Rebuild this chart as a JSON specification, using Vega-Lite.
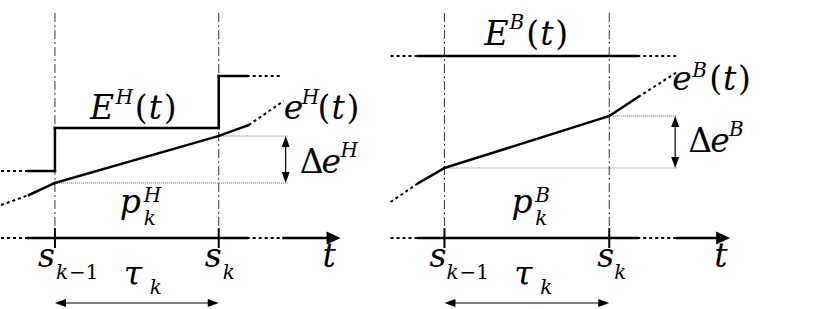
{
"$schema": "https://vega.github.io/schema/vega-lite/v6.json",
"width": 821, "height": 309,
"autosize": {"type": "fit", "contains": "padding"},
"padding": 0,
"background": "white",
"config": {"view": {"stroke": null}, "text": {"font": "DejaVu Serif"}},
"datasets": {
"segs": [
{"x":27,"y":171,"x2":54,"y2":171,"kind":"curve"},
{"x":54,"y":171,"x2":54,"y2":128,"kind":"curve"},
{"x":54,"y":128,"x2":218,"y2":128,"kind":"curve"},
{"x":218,"y":128,"x2":218,"y2":76,"kind":"curve"},
{"x":218,"y":76,"x2":246,"y2":76,"kind":"curve"},
{"x":28,"y":195,"x2":54,"y2":183,"kind":"curve"},
{"x":54,"y":183,"x2":218,"y2":136,"kind":"curve"},
{"x":218,"y":136,"x2":248,"y2":125,"kind":"curve"},
{"x":27,"y":238,"x2":246,"y2":238,"kind":"curve"},
{"x":283,"y":238,"x2":332,"y2":238,"kind":"curve"},
{"x":0,"y":171,"x2":27,"y2":171,"kind":"ext"},
{"x":246,"y":76,"x2":282,"y2":76,"kind":"ext"},
{"x":0,"y":205,"x2":28,"y2":195,"kind":"ext"},
{"x":248,"y":125,"x2":283,"y2":101,"kind":"ext"},
{"x":0,"y":238,"x2":27,"y2":238,"kind":"ext"},
{"x":246,"y":238,"x2":283,"y2":238,"kind":"ext"},
{"x":54,"y":13,"x2":54,"y2":229,"kind":"guide"},
{"x":218,"y":13,"x2":218,"y2":229,"kind":"guide"},
{"x":54,"y":228,"x2":54,"y2":248,"kind":"tick"},
{"x":218,"y":228,"x2":218,"y2":248,"kind":"tick"},
{"x":54,"y":183,"x2":287,"y2":183,"kind":"ref"},
{"x":218,"y":136,"x2":287,"y2":136,"kind":"ref"},
{"x":285,"y":140,"x2":285,"y2":179,"kind":"arrow"},
{"x":58,"y":303,"x2":214,"y2":303,"kind":"arrow"},
{"x":418,"y":56,"x2":637,"y2":56,"kind":"curve"},
{"x":418,"y":183,"x2":444,"y2":168,"kind":"curve"},
{"x":444,"y":168,"x2":609,"y2":116,"kind":"curve"},
{"x":609,"y":116,"x2":638,"y2":97,"kind":"curve"},
{"x":418,"y":238,"x2":637,"y2":238,"kind":"curve"},
{"x":677,"y":238,"x2":722,"y2":238,"kind":"curve"},
{"x":390,"y":56,"x2":418,"y2":56,"kind":"ext"},
{"x":637,"y":56,"x2":677,"y2":56,"kind":"ext"},
{"x":390,"y":202,"x2":418,"y2":183,"kind":"ext"},
{"x":638,"y":97,"x2":677,"y2":72,"kind":"ext"},
{"x":390,"y":238,"x2":418,"y2":238,"kind":"ext"},
{"x":637,"y":238,"x2":677,"y2":238,"kind":"ext"},
{"x":444,"y":13,"x2":444,"y2":229,"kind":"guide"},
{"x":609,"y":13,"x2":609,"y2":229,"kind":"guide"},
{"x":444,"y":228,"x2":444,"y2":248,"kind":"tick"},
{"x":609,"y":228,"x2":609,"y2":248,"kind":"tick"},
{"x":444,"y":168,"x2":677,"y2":168,"kind":"ref"},
{"x":609,"y":116,"x2":677,"y2":116,"kind":"ref"},
{"x":675,"y":120,"x2":675,"y2":164,"kind":"arrow"},
{"x":448,"y":303,"x2":605,"y2":303,"kind":"arrow"}
],
"heads": [
{"x":285,"y":136,"dir":"up"},{"x":285,"y":183,"dir":"down"},
{"x":54,"y":303,"dir":"left"},{"x":218,"y":303,"dir":"right"},
{"x":340,"y":238,"dir":"axis"},
{"x":675,"y":116,"dir":"up"},{"x":675,"y":168,"dir":"down"},
{"x":444,"y":303,"dir":"left"},{"x":609,"y":303,"dir":"right"},
{"x":730,"y":238,"dir":"axis"}
],
"labels": [
{"x":89,"y":119,"text":"E","role":"m"},
{"x":115,"y":104,"text":"H","role":"s"},
{"x":134,"y":119,"text":"(","role":"mu"},
{"x":148,"y":119,"text":"t","role":"m"},
{"x":163,"y":119,"text":")","role":"mu"},
{"x":283,"y":119,"text":"e","role":"m"},
{"x":301,"y":104,"text":"H","role":"s"},
{"x":317,"y":119,"text":"(","role":"mu"},
{"x":331,"y":119,"text":"t","role":"m"},
{"x":346,"y":119,"text":")","role":"mu"},
{"x":299,"y":173,"text":"Δ","role":"mu"},
{"x":321,"y":173,"text":"e","role":"m"},
{"x":340,"y":157,"text":"H","role":"s"},
{"x":119,"y":213,"text":"p","role":"m"},
{"x":143,"y":202,"text":"H","role":"s"},
{"x":143,"y":225,"text":"k","role":"s"},
{"x":37,"y":267,"text":"s","role":"m"},
{"x":55,"y":279,"text":"k","role":"s"},
{"x":68,"y":279,"text":"−1","role":"su"},
{"x":204,"y":267,"text":"s","role":"m"},
{"x":222,"y":279,"text":"k","role":"s"},
{"x":322,"y":267,"text":"t","role":"m"},
{"x":123,"y":285,"text":"τ","role":"m"},
{"x":149,"y":294,"text":"k","role":"s"},
{"x":484,"y":45,"text":"E","role":"m"},
{"x":509,"y":29,"text":"B","role":"s"},
{"x":526,"y":45,"text":"(","role":"mu"},
{"x":540,"y":45,"text":"t","role":"m"},
{"x":555,"y":45,"text":")","role":"mu"},
{"x":672,"y":90,"text":"e","role":"m"},
{"x":692,"y":77,"text":"B","role":"s"},
{"x":709,"y":90,"text":"(","role":"mu"},
{"x":723,"y":90,"text":"t","role":"m"},
{"x":738,"y":90,"text":")","role":"mu"},
{"x":688,"y":152,"text":"Δ","role":"mu"},
{"x":710,"y":152,"text":"e","role":"m"},
{"x":729,"y":136,"text":"B","role":"s"},
{"x":511,"y":213,"text":"p","role":"m"},
{"x":535,"y":202,"text":"B","role":"s"},
{"x":535,"y":225,"text":"k","role":"s"},
{"x":429,"y":267,"text":"s","role":"m"},
{"x":446,"y":279,"text":"k","role":"s"},
{"x":459,"y":279,"text":"−1","role":"su"},
{"x":597,"y":267,"text":"s","role":"m"},
{"x":614,"y":279,"text":"k","role":"s"},
{"x":714,"y":267,"text":"t","role":"m"},
{"x":514,"y":285,"text":"τ","role":"m"},
{"x":540,"y":294,"text":"k","role":"s"}
]
},
"encoding": {
"x": {"field": "x", "type": "quantitative", "scale": {"domain": [0, 821], "nice": false, "zero": false}, "axis": null},
"y": {"field": "y", "type": "quantitative", "scale": {"domain": [0, 309], "reverse": true, "nice": false, "zero": false}, "axis": null}
},
"layer": [
{"data": {"name": "segs"}, "transform": [{"filter": "datum.kind === 'guide'"}],
 "mark": {"type": "rule", "color": "#333333", "strokeWidth": 1, "strokeDash": [9, 3, 2, 3]},
 "encoding": {"x2": {"field": "x2"}, "y2": {"field": "y2"}}},
{"data": {"name": "segs"}, "transform": [{"filter": "datum.kind === 'ref'"}],
 "mark": {"type": "rule", "color": "#666666", "strokeWidth": 1, "strokeDash": [1, 1]},
 "encoding": {"x2": {"field": "x2"}, "y2": {"field": "y2"}}},
{"data": {"name": "segs"}, "transform": [{"filter": "datum.kind === 'arrow'"}],
 "mark": {"type": "rule", "color": "black", "strokeWidth": 1.2},
 "encoding": {"x2": {"field": "x2"}, "y2": {"field": "y2"}}},
{"data": {"name": "segs"}, "transform": [{"filter": "datum.kind === 'ext'"}],
 "mark": {"type": "rule", "color": "black", "strokeWidth": 2, "strokeDash": [3, 3]},
 "encoding": {"x2": {"field": "x2"}, "y2": {"field": "y2"}}},
{"data": {"name": "segs"}, "transform": [{"filter": "datum.kind === 'tick'"}],
 "mark": {"type": "rule", "color": "black", "strokeWidth": 2},
 "encoding": {"x2": {"field": "x2"}, "y2": {"field": "y2"}}},
{"data": {"name": "segs"}, "transform": [{"filter": "datum.kind === 'curve'"}],
 "mark": {"type": "rule", "color": "black", "strokeWidth": 2.5, "strokeCap": "square"},
 "encoding": {"x2": {"field": "x2"}, "y2": {"field": "y2"}}},
{"data": {"name": "heads"},
 "mark": {"type": "point", "filled": true, "opacity": 1, "color": "black", "size": 100, "strokeWidth": 0},
 "encoding": {"shape": {"field": "dir", "type": "nominal", "legend": null,
   "scale": {"domain": ["up", "down", "left", "right", "axis"],
             "range": ["M0,0L-0.8,2.2L0.8,2.2Z", "M0,0L-0.8,-2.2L0.8,-2.2Z", "M0,0L2.2,-0.8L2.2,0.8Z", "M0,0L-2.2,-0.8L-2.2,0.8Z", "M0,0L-2.8,-1.3L-2.8,1.3Z"]}}}},
{"data": {"name": "labels"}, "transform": [{"filter": "datum.role === 'm'"}],
 "mark": {"type": "text", "fontSize": 33, "fontStyle": "italic", "align": "left", "baseline": "alphabetic", "color": "black"},
 "encoding": {"text": {"field": "text"}}},
{"data": {"name": "labels"}, "transform": [{"filter": "datum.role === 'mu'"}],
 "mark": {"type": "text", "fontSize": 33, "align": "left", "baseline": "alphabetic", "color": "black"},
 "encoding": {"text": {"field": "text"}}},
{"data": {"name": "labels"}, "transform": [{"filter": "datum.role === 's'"}],
 "mark": {"type": "text", "fontSize": 20, "fontStyle": "italic", "align": "left", "baseline": "alphabetic", "color": "black"},
 "encoding": {"text": {"field": "text"}}},
{"data": {"name": "labels"}, "transform": [{"filter": "datum.role === 'su'"}],
 "mark": {"type": "text", "fontSize": 20, "align": "left", "baseline": "alphabetic", "color": "black"},
 "encoding": {"text": {"field": "text"}}}
]
}
